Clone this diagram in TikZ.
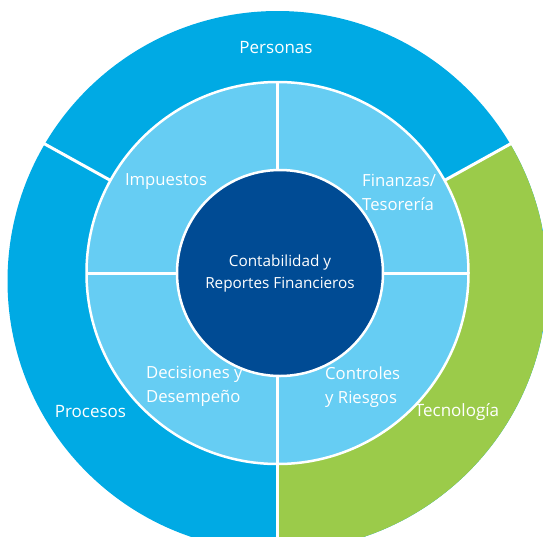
\documentclass[tikz,border=0pt]{standalone}
\usepackage{fontspec}
\setmainfont{Open Sans}
\usetikzlibrary{calc}
\definecolor{outerblue}{RGB}{0,170,228}
\definecolor{lightblue}{RGB}{102,205,243}
\definecolor{darkblue}{RGB}{0,75,148}
\definecolor{techgreen}{RGB}{155,203,74}
\begin{document}
\begin{tikzpicture}[x=1pt,y=-1pt,
  lbl/.style={text=white, inner sep=0pt},
  outerlbl/.style={lbl, font=\fontsize{17}{20}\selectfont},
  midlbl/.style={lbl, align=left, font=\fontsize{16.7}{24}\selectfont},
  divider/.style={draw=white, line width=3pt}]
\useasboundingbox (0,0) rectangle (543,536);
\clip (0,0) rectangle (543,536);
\coordinate (C) at (277.5,273);
\coordinate (O) at (277.5,281);
\coordinate (I) at (280,273);
% outer ring
\fill[outerblue] (O) circle (270);
\begin{scope}
  \clip (O) circle (270);
  \fill[techgreen] (C) -- ++(0,600) -- ++(612,0) -- ++(0,-939) -- cycle;
\end{scope}
% outer dividers
\coordinate (d1a) at ([shift={(-29:185)}]C);
\coordinate (d1b) at ([shift={(-29:320)}]C);
\coordinate (d2a) at ([shift={(-151:185)}]C);
\coordinate (d2b) at ([shift={(-151:320)}]C);
\coordinate (d3a) at ([shift={(90:185)}]C);
\coordinate (d3b) at ([shift={(90:320)}]C);
\draw[divider] (d1a) -- (d1b);
\draw[divider] (d2a) -- (d2b);
\draw[divider] (d3a) -- (d3b);
% middle ring
\fill[lightblue, draw=white, line width=2.5pt] (C) circle (191);
\coordinate (mt) at ([shift={(0,-191)}]C);
\coordinate (mb) at ([shift={(0,191)}]C);
\coordinate (ml) at ([shift={(-191,0)}]C);
\coordinate (mr) at ([shift={(191,0)}]C);
\draw[divider] (mt) -- (mb);
\draw[divider] (ml) -- (mr);
% inner disc
\fill[darkblue, draw=white, line width=2.5pt] (I) circle (103);
% labels
\node[outerlbl] (personas) at (276,47.5) {Personas};
\node[outerlbl] (procesos) at (90.5,412) {Procesos};
\node[outerlbl] (tecnologia) at (457,412.5) {Tecnología};
\node[midlbl, anchor=center] (impuestos) at (166,181.5) {Impuestos};
\node[midlbl, anchor=west] (finanzas) at (362,192) {Finanzas/\\Tesorería};
\node[midlbl, anchor=west] (decisiones) at (146,386.5) {Decisiones y\\Desempeño};
\node[midlbl, anchor=west] (controles) at (325,387.5) {Controles\\y Riesgos};
\node[lbl, align=center, font=\fontsize{15.3}{22.5}\selectfont] (centro) at (280,273.5) {Contabilidad y\\Reportes Financieros};
\end{tikzpicture}
\end{document}
